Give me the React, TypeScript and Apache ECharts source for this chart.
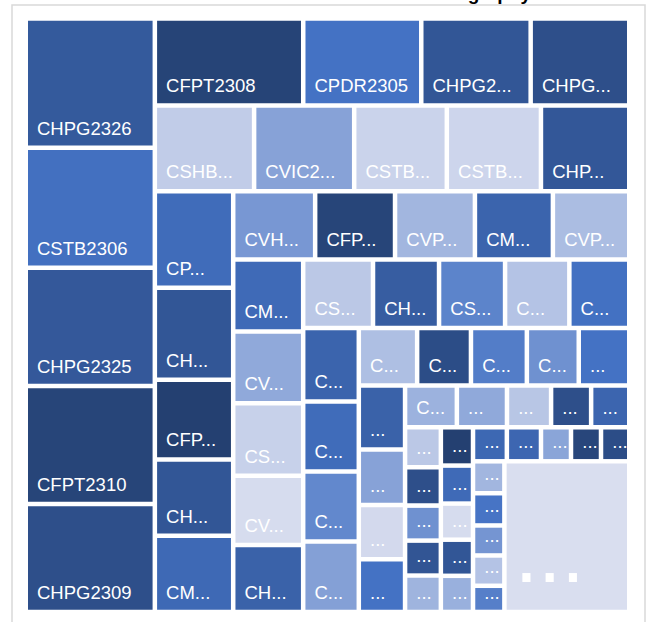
import React, { useEffect, useRef } from 'react';
import * as echarts from 'echarts';

// ---------------- data ----------------
const CHART_TITLE = 'Covered Warrant Market Share \u2013 Geography';

// covered warrant codes, in the order the treemap lays them out
const warrantNames = [
  'CHPG2326', 'CSTB2306', 'CHPG2325', 'CFPT2310', 'CHPG2309',
  'CFPT2308', 'CPDR2305', 'CHPG2314', 'CHPG2312',
  'CSHB2302', 'CVIC2304', 'CSTB2315', 'CSTB2309', 'CHPG2321',
  'CPOW2304', 'CHDB2302', 'CFPT2306', 'CHDB2305', 'CMWG2305',
  'CVHM2306', 'CFPT2312', 'CVPB2307', 'CMSN2304', 'CVPB2310',
  'CMWG2310', 'CVNM2304', 'CSHB2305', 'CVRE2307', 'CHPG2331',
  'CSTB2312', 'CHPG2315', 'CSSB2301', 'CMBB2304', 'CACB2302',
  'CMBB2307', 'CPOW2302', 'CVJC2301', 'CNVL2303',
  'CTPB2301', 'CFPT2311', 'CMSN2306', 'CVHM2309', 'CHPG2327',
  'CSTB2317', 'CVIB2302', 'CDPM2301', 'CKDH2301',
  'CGMD2302', 'CVRE2309', 'CLPB2301', 'CHPG2320', 'CMWG2311',
  'CVNM2306', 'CFPT2309', 'CTCB2307', 'CHPG2319', 'CSHB2307',
  'CFPT2313', 'CMBB2309', 'CVIC2307', 'CHPG2328', 'CVPB2312',
  'CSTB2319', 'CACB2305', 'CNVL2305', 'CFPT2315', 'CHPG2333',
  'CVHM2311', 'CMWG2314', 'CTPB2303', 'CVIB2305', 'CSTB2320',
  'Others',
];

// size measure (tile area)
const tradingValues = [
  166.8, 154.4, 152.4, 152.3, 139.1,
  129.0, 102.6, 95.1, 85.7,
  85.1, 85.8, 79.4, 80.7, 75.7,
  75.5, 71.9, 62.4, 59.6, 59.7,
  55.7, 54.3, 54.3, 53.0, 51.9,
  50.3, 50.1, 50.7, 48.4, 46.8,
  47.8, 45.2, 45.2, 44.0, 41.0,
  40.8, 38.9, 38.9, 39.1,
  33.5, 30.9, 32.1, 29.8, 29.0,
  29.6, 25.6, 25.0, 24.4,
  21.6, 20.9, 18.4, 16.7, 15.9,
  14.3, 13.7, 12.5, 12.5, 13.0,
  12.3, 12.2, 11.6, 11.6, 11.6,
  11.5, 11.6, 10.2, 10.2, 9.6,
  10.0, 10.1, 9.4, 9.5, 8.2,
  187.8,
];

// colour measure (0 = lightest, 100 = darkest)
const colorScores = [
  71, 52, 72, 89, 80,
  90, 50, 74, 80,
  9, 28, 6, 5, 73,
  55, 74, 93, 74, 58,
  33, 89, 19, 62, 16,
  57, 25, 7, 2, 64,
  11, 68, 42, 13, 51,
  62, 55, 40, 29,
  15, 82, 45, 36, 50,
  64, 28, 3, 50,
  21, 25, 12, 80, 61,
  11, 80, 36, 75, 20,
  93, 57, 2, 74, 22,
  59, 60, 27, 88, 82,
  19, 49, 34, 13, 44,
  1,
];

// how many consecutive items share each layout band
const bandSizes = [5, 4, 5, 5, 5, 5, 5, 4, 5, 4, 5, 5, 5, 5, 5, 1];

const SHADES = ['#dce0f0', '#4472c4', '#1f3864'];
const OTHERS = 'Others';

// ---------------- styling ----------------
const FONT_FAMILY = "'Liberation Sans', Arial, Helvetica, sans-serif";
const LABEL_SIZE = 18.5;
const PAD_L = 9;
const PAD_R = 9.45;
const PAD_B = 14.4;
const LINE_H = 6;

export default function App() {
  const ref = useRef<HTMLDivElement>(null);

  useEffect(() => {
    if (!ref.current) return;
    const chart = echarts.init(ref.current, undefined, { renderer: 'svg' });

    const canvas = document.createElement('canvas');
    const ctx = canvas.getContext('2d');
    const labelFont = `${LABEL_SIZE}px ${FONT_FAMILY}`;
    const measure = (s: string) => {
      if (!ctx) return s.length * LABEL_SIZE * 0.6;
      ctx.font = labelFont;
      return ctx.measureText(s).width;
    };
    const fit = (name: string, avail: number) => {
      if (measure(name) <= avail) return name;
      for (let k = name.length - 1; k >= 1; k--) {
        const s = name.slice(0, k) + '...';
        if (measure(s) <= avail) return s;
      }
      return '...';
    };
    const tileWidth = (dataIndex: number): number | null => {
      try {
        const model: any = (chart as any).getModel();
        const data = model.getSeriesByIndex(0).getData();
        const node = data.tree.getNodeByDataIndex(dataIndex);
        const lay = node && node.getLayout();
        return lay && typeof lay.width === 'number' ? lay.width : null;
      } catch (e) {
        return null;
      }
    };

    const leaves = warrantNames.map((name, i) => {
      const item: any = {
        name,
        value: tradingValues[i],
        score: colorScores[i],
        itemStyle: { color: echarts.color.lerp(colorScores[i] / 100, SHADES) },
      };
      if (name === OTHERS) {
        item.label = {
          formatter: '...',
          fontSize: 84,
          padding: [0, 0, 53.4, 8],
        };
      }
      return item;
    });

    // nest the bands: [band1, [band2, [band3, ...]]]
    const bands: any[] = [];
    let idx = 0;
    bandSizes.forEach((n, b) => {
      const children = leaves.slice(idx, idx + n);
      idx += n;
      bands.push(children.length === 1 ? children[0] : { name: `Band ${b + 1}`, children });
    });
    let nested: any = bands[bands.length - 1];
    for (let b = bands.length - 2; b >= 0; b--) {
      nested = { name: `Group ${b + 1}`, children: [bands[b], nested] };
    }
    const rootData = nested.children;

    chart.setOption({
      animation: false,
      backgroundColor: '#ffffff',
      title: {
        text: CHART_TITLE,
        right: 116,
        top: -16,
        padding: 0,
        textStyle: { fontSize: 19, fontWeight: 'bold', color: '#000000', fontFamily: FONT_FAMILY },
      },
      graphic: [
        {
          type: 'rect',
          z: -10,
          silent: true,
          shape: { x: 12, y: 5, width: 633, height: 700 },
          style: { fill: '#ffffff', stroke: '#d9d9d9', lineWidth: 1.5 },
        },
      ],
      series: [
        {
          type: 'treemap',
          left: 28,
          top: 20.7,
          width: 599,
          height: 589,
          sort: false,
          squareRatio: 1,
          roam: false,
          nodeClick: false,
          breadcrumb: { show: false },
          itemStyle: { borderWidth: 0, gapWidth: 4.5, borderColor: '#ffffff' },
          upperLabel: { show: false },
          label: {
            show: true,
            position: 'insideBottomLeft',
            distance: 0,
            padding: [0, PAD_R, PAD_B, PAD_L],
            color: '#ffffff',
            fontSize: LABEL_SIZE,
            fontFamily: FONT_FAMILY,
            lineHeight: LINE_H,
            overflow: 'none',
            formatter: (p: any) => {
              const w = tileWidth(p.dataIndex);
              return w == null ? p.name : fit(p.name, w - PAD_L - PAD_R);
            },
          },
          emphasis: { disabled: true },
          data: rootData,
        },
      ],
    });

    return () => chart.dispose();
  }, []);

  return (
    <div
      ref={ref}
      style={{ position: 'absolute', left: 0, top: 0, width: 647, height: 622, overflow: 'hidden' }}
    />
  );
}
